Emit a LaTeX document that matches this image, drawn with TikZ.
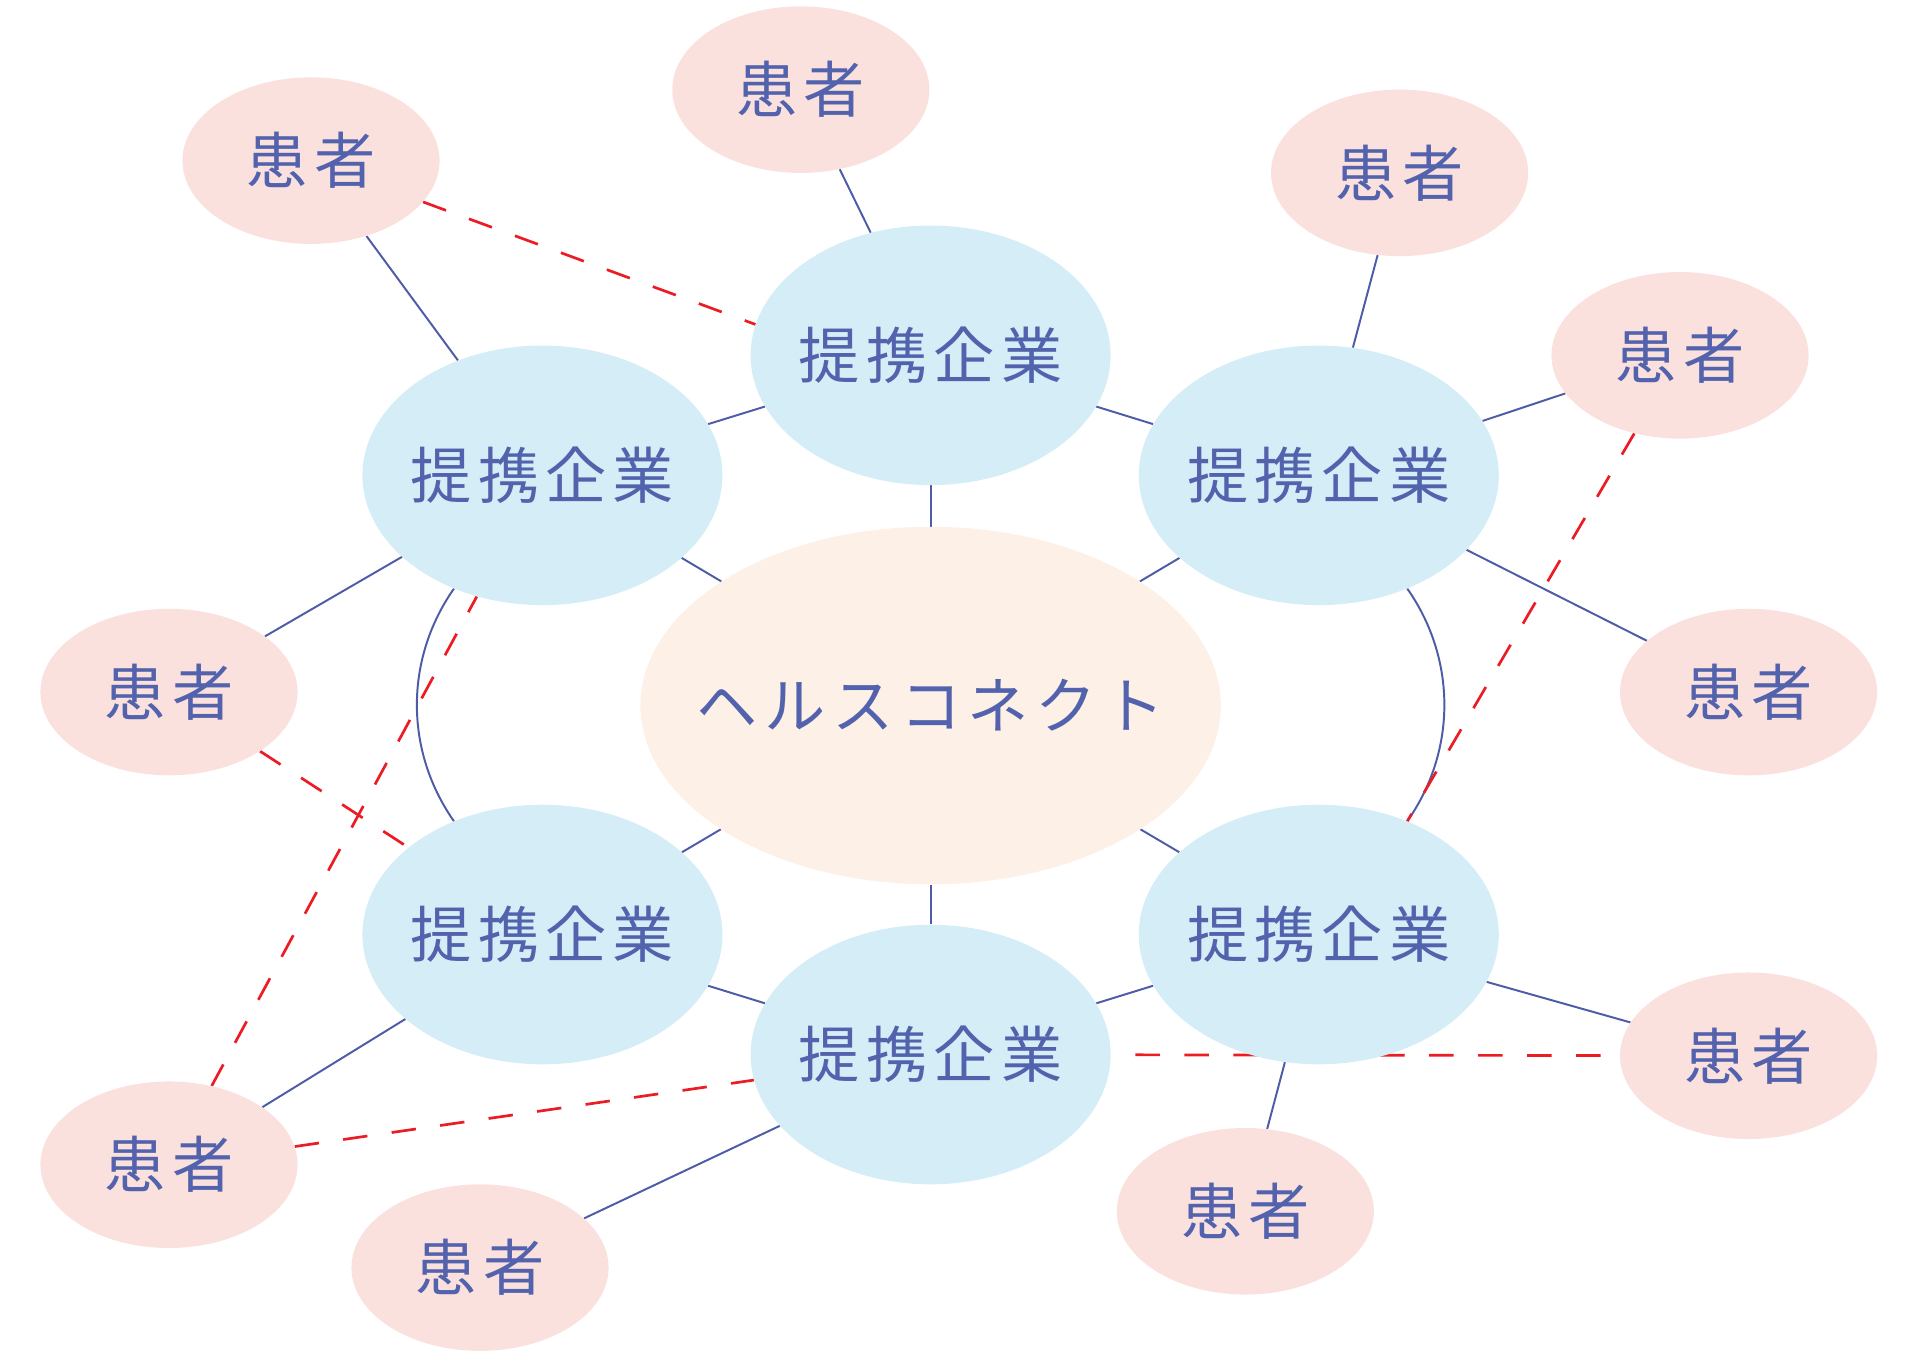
\documentclass[tikz,border=0pt]{standalone}
\usepackage{fontspec}
\newfontfamily\jp{Noto Sans CJK JP}
\usetikzlibrary{shapes.geometric}
\pgfdeclarelayer{background}
\pgfsetlayers{background,main}
\definecolor{txtblue}{RGB}{82,98,172}
\definecolor{linecol}{RGB}{78,92,168}
\definecolor{redcol}{RGB}{236,28,36}
\definecolor{bluefill}{RGB}{213,237,247}
\definecolor{pinkfill}{RGB}{251,225,222}
\definecolor{centerfill}{RGB}{253,240,231}
\tikzset{
  bell/.style={ellipse, fill=bluefill, minimum width=294pt, minimum height=212pt, inner sep=0pt},
  pell/.style={ellipse, fill=pinkfill, minimum width=210pt, minimum height=136pt, inner sep=0pt},
  cell/.style={ellipse, fill=centerfill, minimum width=474pt, minimum height=292pt, inner sep=0pt},
  lbl/.style={font=\jp\fontsize{50}{60}\selectfont, text=txtblue, inner sep=0pt},
  conn/.style={draw=linecol, line width=1.6pt},
  dconn/.style={draw=redcol, line width=2.2pt, dash pattern=on 20pt off 20pt},
}
\newcommand{\kigyo}{提\kern5pt 携\kern5pt 企\kern5pt 業}
\newcommand{\kanja}{患\kern5pt 者}
\begin{document}
\begin{tikzpicture}[x=1pt,y=1pt]
\useasboundingbox (0,0) rectangle (1568,1108.2);
% center
\node[cell] (c) at (760,532) {};
\node[lbl] (ct) at (c) {ヘ\kern5.5pt ル\kern5.5pt ス\kern5.5pt コ\kern5.5pt ネ\kern5.5pt ク\kern5.5pt ト};
% partner companies
\node[bell] (b1) at (760,818) {};
\node[bell] (b2) at (443,720) {};
\node[bell] (b3) at (1077,720) {};
\node[bell] (b4) at (443,345) {};
\node[bell] (b5) at (1077,345) {};
\node[bell] (b6) at (760,247) {};
\node[lbl] (b1t) at (b1) {\kigyo};
\node[lbl] (b2t) at (b2) {\kigyo};
\node[lbl] (b3t) at (b3) {\kigyo};
\node[lbl] (b4t) at (b4) {\kigyo};
\node[lbl] (b5t) at (b5) {\kigyo};
\node[lbl] (b6t) at (b6) {\kigyo};
% patients
\node[pell] (p1) at (654,1035) {};
\node[pell] (p2) at (254,977) {};
\node[pell] (p3) at (1143,967) {};
\node[pell] (p4) at (1372,818) {};
\node[pell] (p5) at (138,543) {};
\node[pell] (p6) at (1428,543) {};
\node[pell] (p7) at (1428,246) {};
\node[pell] (p8) at (138,157) {};
\node[pell] (p9) at (392,73) {};
\node[pell] (p10) at (1017,119) {};
\foreach \n in {p1,p2,p3,p4,p5,p6,p7,p8,p9,p10}{
  \node[lbl] (\n t) at (\n) {\kanja};
}
\begin{pgfonlayer}{background}
  % solid connectors
  \draw[conn] (c) -- (b1);
  \draw[conn] (c) -- (b2);
  \draw[conn] (c) -- (b3);
  \draw[conn] (c) -- (b4);
  \draw[conn] (c) -- (b5);
  \draw[conn] (c) -- (b6);
  \draw[conn] (b1) -- (b2);
  \draw[conn] (b1) -- (b3);
  \draw[conn] (b6) -- (b4);
  \draw[conn] (b6) -- (b5);
  \draw[conn] (b2.232) to[out=235, in=125, looseness=0.95] (b4.128);
  \draw[conn] (b3.308) to[out=-55, in=55, looseness=0.95] (b5.52);
  \draw[conn] (p1) -- (b1);
  \draw[conn] (p2) -- (b2);
  \draw[conn] (p3) -- (b3);
  \draw[conn] (p4) -- (b3);
  \draw[conn] (p5) -- (b2);
  \draw[conn] (p6) -- (b3);
  \draw[conn] (p7) -- (b5);
  \draw[conn] (p8) -- (b4);
  \draw[conn] (p9) -- (b6);
  \draw[conn] (p10) -- (b5);
  % dashed connectors
  \draw[dconn] (p2) -- (b1.170);
  \draw[dconn] (p4) -- (b5.52);
  \draw[dconn] (p5) -- (b4);
  \draw[dconn] (p8) -- (b2);
  \draw[dconn] (p8) -- (b6);
  \draw[dconn, dash phase=20pt] (b6) -- (p7);
\end{pgfonlayer}
\end{tikzpicture}
\end{document}
